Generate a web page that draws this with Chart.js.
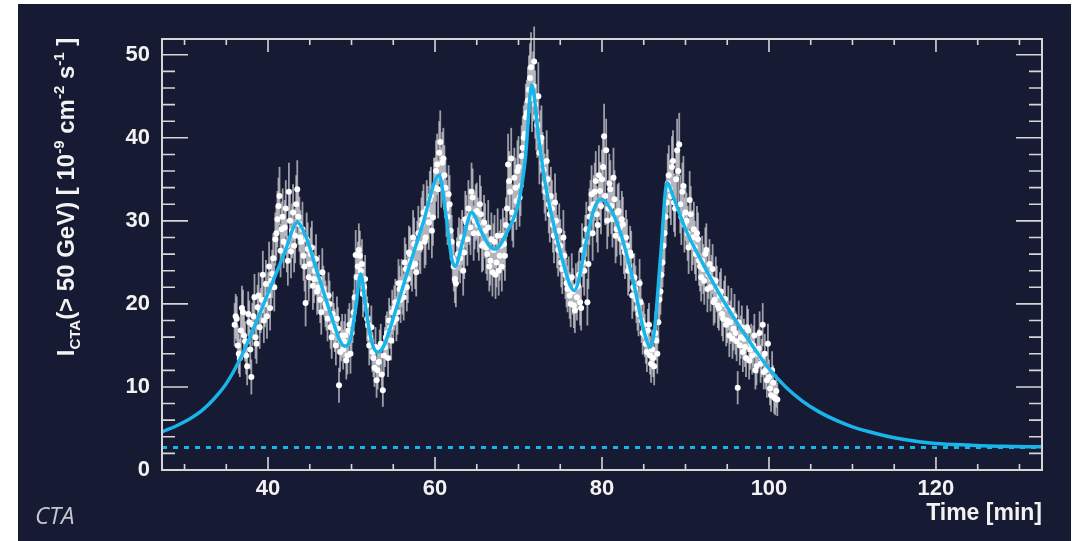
<!DOCTYPE html>
<html>
<head>
  <title>CTA flare light curve</title>
  <meta charset="utf-8" />
  <style>
    body {
      margin: 0;
      background: #ffffff;
    }
    #panel {
      position: absolute;
      left: 18px;
      top: 4px;
      width: 1053px;
      height: 537px;
      background: #161b33;
    }
  </style>
</head>
<body>
  <div id="panel"><canvas id="chart"></canvas></div>

  <script src="https://cdn.jsdelivr.net/npm/chart.js"></script>
  <script>
    // measured flux, one bin every 0.25 min starting at 36 min
    const tStart = 36;
    const tStep = 0.25;
    const flux = [
      17.5, 18.2, 14.0, 16.8,  19.0, 15.5, 12.5, 17.8,  11.2, 18.5, 16.0, 19.6,  17.2, 20.5, 18.0, 22.4,
      21.0, 19.5, 23.6, 22.0,  28.5, 31.8, 26.4, 30.5,  29.2, 27.0, 33.5, 26.3,  31.0, 28.2, 33.8, 29.6,
      27.5, 25.8, 20.1, 26.6,  24.8, 26.8, 23.0, 25.4,  22.0, 20.5, 23.8, 21.2,  19.5, 21.0, 17.2, 18.8,
      16.8, 18.2, 10.2, 15.5,  14.5, 16.2, 13.8, 17.5,  16.5, 19.0, 25.9, 24.5,  25.8, 24.8, 22.0, 19.8,
      17.5, 16.0, 14.2, 12.3,  10.8, 13.0, 15.2, 9.6,   14.8, 16.5, 18.0, 15.6,  17.8, 20.2, 19.0, 21.8,
      22.5, 20.8, 24.2, 23.0,  26.0, 24.5, 27.2, 23.8,  28.5, 26.8, 30.2, 27.5,  31.5, 29.8, 33.0, 30.4,
      34.0, 36.8, 38.2, 35.2,  37.5, 34.0, 30.5, 32.0,  27.5, 24.5, 22.5, 26.0,  25.5, 28.0, 26.2, 29.8,
      31.5, 29.2, 32.8, 30.0,  31.2, 28.5, 30.8, 27.2,  28.8, 26.0, 24.5, 27.8,  26.5, 23.5, 28.2, 25.8,
      24.5, 27.2, 29.5, 36.8,  33.5, 31.0, 35.2, 32.4,  36.5, 34.2, 38.8, 40.5,  43.0, 45.8, 48.5, 46.2,
      44.0, 41.5, 38.2, 40.0,  36.2, 33.5, 35.0, 30.8,  31.5, 28.2, 30.0, 26.5,  27.0, 24.2, 25.8, 22.5,
      22.8, 20.0, 21.5, 19.2,  20.8, 23.5, 19.5, 25.0,  27.5, 20.2, 30.5, 33.2,  32.0, 34.8, 29.5, 33.6,
      35.0, 40.2, 38.5, 31.5,  33.8, 30.2, 32.6, 29.0,  31.2, 27.8, 29.6, 26.2,  27.0, 24.5, 25.8, 22.0,
      21.8, 19.5, 22.5, 18.0,  17.5, 15.2, 16.8, 13.8,  14.5, 12.5, 15.6, 17.8,  21.5, 25.0, 28.5, 32.2,
      35.5, 33.0, 37.2, 31.5,  38.5, 39.2, 30.5, 34.2,  31.0, 28.5, 32.5, 27.2,  29.0, 26.0, 27.8, 24.5,
      25.2, 22.8, 26.5, 23.5,  22.0, 24.2, 20.5, 21.8,  19.5, 21.5, 18.2, 20.6,  18.0, 16.2, 19.2, 17.0,
      16.5, 9.9, 15.0, 17.2,   15.8, 13.5, 16.8, 14.5,  13.8, 16.2, 12.5, 14.6,  12.8, 17.5, 14.0, 10.8,
      11.2, 9.0, 10.5, 8.6,    8.5
    ];
    const fluxErr = [
      2.6, 2.7, 2.4, 2.6,  2.7, 2.4, 2.3, 2.6,  2.1, 2.7, 2.6, 2.7,  2.6, 2.8, 2.7, 2.9,
      2.8, 2.7, 2.9, 2.9,  3.3, 3.4, 3.2, 3.4,  3.3, 3.2, 3.5, 3.2,  3.4, 3.3, 3.5, 3.3,
      3.2, 3.0, 2.8, 3.2,  3.0, 3.2, 2.9, 3.0,  2.9, 2.8, 2.9, 2.8,  2.7, 2.8, 2.6, 2.7,
      2.6, 2.7, 2.1, 2.4,  2.4, 2.6, 2.3, 2.6,  2.6, 2.7, 3.0, 3.0,  3.0, 3.0, 2.9, 2.7,
      2.6, 2.6, 2.4, 2.3,  2.1, 2.3, 2.4, 2.0,  2.4, 2.6, 2.7, 2.4,  2.6, 2.8, 2.7, 2.8,
      2.9, 2.8, 3.0, 2.9,  3.2, 3.0, 3.2, 2.9,  3.3, 3.2, 3.4, 3.2,  3.4, 3.3, 3.5, 3.4,
      3.6, 3.7, 3.8, 3.6,  3.7, 3.6, 3.4, 3.5,  3.2, 3.0, 2.9, 3.2,  3.0, 3.3, 3.2, 3.3,
      3.4, 3.3, 3.5, 3.4,  3.4, 3.3, 3.4, 3.2,  3.3, 3.2, 3.0, 3.2,  3.2, 2.9, 3.3, 3.0,
      3.0, 3.2, 3.3, 3.7,  3.5, 3.4, 3.6, 3.5,  3.7, 3.6, 3.8, 3.9,  4.0, 4.1, 4.2, 4.2,
      4.1, 3.9, 3.8, 3.9,  3.7, 3.5, 3.6, 3.4,  3.4, 3.3, 3.4, 3.2,  3.2, 3.0, 3.0, 2.9,
      2.9, 2.8, 2.8, 2.7,  2.8, 2.9, 2.7, 3.0,  3.2, 2.8, 3.4, 3.5,  3.5, 3.6, 3.3, 3.5,
      3.6, 3.9, 3.8, 3.4,  3.5, 3.4, 3.5, 3.3,  3.4, 3.2, 3.3, 3.2,  3.2, 3.0, 3.0, 2.9,
      2.8, 2.7, 2.9, 2.7,  2.6, 2.4, 2.6, 2.3,  2.4, 2.3, 2.4, 2.6,  2.8, 3.0, 3.3, 3.5,
      3.6, 3.5, 3.7, 3.4,  3.8, 3.8, 3.4, 3.6,  3.4, 3.3, 3.5, 3.2,  3.3, 3.2, 3.2, 3.0,
      3.0, 2.9, 3.2, 2.9,  2.9, 3.0, 2.8, 2.8,  2.7, 2.8, 2.7, 2.8,  2.7, 2.6, 2.7, 2.6,
      2.6, 2.0, 2.4, 2.6,  2.4, 2.3, 2.6, 2.4,  2.3, 2.6, 2.3, 2.4,  2.3, 2.6, 2.4, 2.1,
      2.1, 2.0, 2.1, 2.0,  2.0
    ];

    // second, interleaved set of bins starting at 36.125 min
    const tStart2 = 36.125;
    const flux2 = [
      18.5, 15.0, 13.5, 19.5,  16.2, 13.8, 18.8, 14.5,  17.5, 20.8, 15.2, 21.0,  19.2, 23.5, 20.0, 18.5,
      24.5, 22.8, 25.5, 27.8,  30.2, 33.0, 29.0, 27.5,  31.5, 25.2, 30.0, 28.8,  27.0, 32.0, 30.5, 28.0,
      29.0, 24.5, 27.8, 23.2,  26.0, 22.2, 24.0, 21.5,  23.0, 19.0, 21.8, 20.0,  18.2, 20.0, 16.0, 17.5,
      15.0, 17.0, 14.2, 16.2,  15.5, 13.2, 16.8, 14.0,  18.0, 20.8, 23.2, 26.5,  24.0, 21.2, 23.0, 18.2,
      15.0, 17.2, 13.5, 14.8,  12.0, 14.5, 11.5, 13.8,  16.0, 13.5, 17.2, 19.0,  19.5, 18.2, 22.5, 20.5,
      21.5, 25.0, 22.0, 26.2,  25.2, 28.0, 24.8, 26.8,  27.2, 29.5, 31.0, 28.0,  30.8, 32.5, 28.8, 34.0,
      36.0, 33.8, 39.5, 37.0,  35.5, 31.5, 33.2, 28.8,  25.5, 23.0, 25.0, 27.2,  27.0, 24.0, 30.2, 27.8,
      30.5, 33.5, 28.5, 31.0,  29.5, 32.0, 27.0, 29.8,  26.8, 29.2, 25.2, 23.8,  27.5, 25.0, 24.0, 27.0,
      28.2, 25.8, 31.5, 34.8,  37.5, 30.2, 34.0, 36.0,  32.8, 37.8, 40.0, 42.5,  44.5, 47.2, 44.8, 49.2,
      42.5, 45.0, 39.5, 37.0,  34.5, 37.2, 32.0, 33.0,  29.5, 32.2, 27.5, 28.8,  25.0, 28.0, 23.5, 21.8,
      21.0, 23.2, 19.8, 22.0,  22.2, 20.2, 26.5, 24.0,  29.0, 24.8, 31.5, 28.5,  33.5, 30.8, 35.5, 31.8,
      36.5, 33.0, 30.0, 34.5,  31.8, 35.2, 28.2, 31.0,  29.2, 30.2, 26.8, 28.0,  24.0, 26.2, 21.0, 23.2,
      20.5, 18.8, 20.2, 16.5,  16.2, 14.2, 17.5, 12.8,  13.5, 16.5, 14.0, 20.5,  23.5, 27.0, 30.5, 34.5,
      33.8, 36.5, 32.2, 35.0,  36.0, 32.0, 33.5, 29.5,  30.0, 26.8, 30.8, 28.0,  26.8, 28.5, 25.2, 23.2,
      24.2, 26.0, 21.8, 24.8,  23.0, 20.2, 22.8, 19.8,  21.0, 18.8, 20.0, 17.5,  19.5, 17.8, 15.8, 18.5,
      15.5, 17.8, 16.0, 14.2,  14.8, 17.2, 13.2, 15.2,  15.0, 12.0, 14.0, 16.5,  13.5, 11.8, 12.0, 15.2,
      9.8, 12.0, 8.8, 9.5
    ];
    const fluxErr2 = [
      2.7, 2.4, 2.3, 2.7,  2.6, 2.3, 2.7, 2.4,  2.6, 2.8, 2.4, 2.8,  2.7, 2.9, 2.8, 2.7,
      3.0, 2.9, 3.0, 3.2,  3.4, 3.5, 3.3, 3.2,  3.4, 3.0, 3.4, 3.3,  3.2, 3.5, 3.4, 3.3,
      3.3, 3.0, 3.2, 2.9,  3.2, 2.9, 3.0, 2.8,  2.9, 2.7, 2.8, 2.8,  2.7, 2.8, 2.6, 2.6,
      2.4, 2.6, 2.4, 2.6,  2.4, 2.3, 2.6, 2.4,  2.7, 2.8, 2.9, 3.2,  3.0, 2.8, 2.9, 2.7,
      2.4, 2.6, 2.3, 2.4,  2.3, 2.4, 2.1, 2.3,  2.6, 2.3, 2.6, 2.7,  2.7, 2.7, 2.9, 2.8,
      2.8, 3.0, 2.9, 3.2,  3.0, 3.3, 3.0, 3.2,  3.2, 3.3, 3.4, 3.3,  3.4, 3.5, 3.3, 3.6,
      3.7, 3.5, 3.8, 3.7,  3.6, 3.4, 3.5, 3.3,  3.0, 2.9, 3.0, 3.2,  3.2, 3.0, 3.4, 3.2,
      3.4, 3.5, 3.3, 3.4,  3.3, 3.5, 3.2, 3.3,  3.2, 3.3, 3.0, 2.9,  3.2, 3.0, 3.0, 3.2,
      3.3, 3.0, 3.4, 3.6,  3.7, 3.4, 3.6, 3.7,  3.5, 3.7, 3.9, 4.0,  4.1, 4.2, 4.1, 4.2,
      4.0, 4.1, 3.8, 3.7,  3.6, 3.7, 3.5, 3.5,  3.3, 3.5, 3.2, 3.3,  3.0, 3.3, 2.9, 2.8,
      2.8, 2.9, 2.7, 2.9,  2.9, 2.8, 3.2, 3.0,  3.3, 3.0, 3.4, 3.3,  3.5, 3.4, 3.6, 3.4,
      3.7, 3.5, 3.4, 3.6,  3.4, 3.6, 3.3, 3.4,  3.3, 3.4, 3.2, 3.3,  3.0, 3.2, 2.8, 2.9,
      2.8, 2.7, 2.8, 2.6,  2.6, 2.4, 2.6, 2.3,  2.3, 2.6, 2.4, 2.8,  2.9, 3.2, 3.4, 3.6,
      3.5, 3.7, 3.5, 3.6,  3.7, 3.5, 3.5, 3.3,  3.4, 3.2, 3.4, 3.3,  3.2, 3.3, 3.0, 2.9,
      3.0, 3.2, 2.8, 3.0,  2.9, 2.8, 2.9, 2.7,  2.8, 2.7, 2.8, 2.6,  2.7, 2.6, 2.4, 2.7,
      2.4, 2.6, 2.6, 2.4,  2.4, 2.6, 2.3, 2.4,  2.4, 2.3, 2.4, 2.6,  2.3, 2.1, 2.3, 2.4,
      2.0, 2.3, 2.0, 2.0
    ];

    // fitted light curve
    const fitT = [27.3, 29, 30, 31, 32, 33, 34, 35, 36, 37, 38, 39, 40, 42, 43.5, 44.5, 46, 47.5, 48.6, 49.2, 49.8,
      50.5, 51.1, 51.7, 52.4, 53.1, 53.8, 55, 56.6, 58.5, 60.5, 61.2, 62.0, 62.4, 63.3, 64.4, 65.5,
      66.5, 67.2, 68.6, 70.0, 70.8, 71.6, 72.4, 73.2, 74.0, 75.2, 76.2, 76.7, 77.2, 78.0, 79.0, 79.8,
      80.8, 82.2, 83.8, 85.0, 85.8, 86.3, 87.0, 87.8, 88.5, 90, 92, 94, 96, 98, 100, 102, 104, 106,
      108, 110, 112, 114, 116, 118, 120, 124, 128, 132.7];
    const fitY = [4.6, 5.3, 5.8, 6.4, 7.1, 8.0, 9.1, 10.4, 12.1, 14.1, 16.4, 18.8, 21.3, 26.2, 29.8, 28.2, 23.5, 18.8, 15.6, 14.9, 15.5,
      19.5, 23.6, 19.5, 15.5, 14.2, 14.8, 18.3, 23.5, 29.5, 35.5, 31.5, 25.5, 24.5, 27.5, 31.0, 28.8,
      27.0, 26.6, 28.6, 32.2, 37.3, 46.4, 40.1, 34.5, 30.5, 25.5, 22.2, 21.6, 22.8, 27.0, 31.3, 32.6,
      31.8, 28.6, 22.5, 16.8, 14.8, 17.0, 25.5, 34.6, 33.0, 29.0, 25.0, 21.3, 18.0, 15.0, 12.2, 10.0, 8.3, 7.0,
      6.0, 5.2, 4.6, 4.1, 3.7, 3.4, 3.2, 3.0, 2.85, 2.8];

    // steady baseline level (dotted)
    const baseLevel = 2.7;

    const xMin = 27.3, xMax = 132.7;
    const yMin = 0, yMax = 51.9;
    const xLabels = [40, 60, 80, 100, 120];
    const yLabels = [0, 10, 20, 30, 40, 50];

    const fg = '#f2f2f2';
    const cyan = '#19b5ea';
    const fontFamily = '"Liberation Sans", Arial, sans-serif';

    const points = flux.map((v, i) => ({ x: tStart + i * tStep, y: v, err: fluxErr[i] }))
      .concat(flux2.map((v, i) => ({ x: tStart2 + i * tStep, y: v, err: fluxErr2[i] })));
    const fitPoints = fitT.map((t, i) => ({ x: t, y: fitY[i] }));

    function drawYTitle(ctx, cx, cy) {
      const parts = [
        ['I', 0, 24], ['CTA', 6, 15], ['(> 50 GeV) [ 10', 0, 24], ['-9', -10, 15],
        [' cm', 0, 24], ['-2', -10, 15], [' s', 0, 24], ['-1', -10, 15], [' ]', 0, 24]
      ];
      ctx.save();
      ctx.translate(cx, cy);
      ctx.rotate(-Math.PI / 2);
      ctx.fillStyle = fg;
      ctx.textBaseline = 'alphabetic';
      let total = 0;
      parts.forEach(p => {
        ctx.font = 'bold ' + p[2] + 'px ' + fontFamily;
        total += ctx.measureText(p[0]).width;
      });
      let x = -total / 2;
      parts.forEach(p => {
        ctx.font = 'bold ' + p[2] + 'px ' + fontFamily;
        ctx.fillText(p[0], x, p[1]);
        x += ctx.measureText(p[0]).width;
      });
      ctx.restore();
    }

    const framePlugin = {
      id: 'frame',
      beforeDatasetsDraw(chart) {
        // error bars under the markers
        const ctx = chart.ctx;
        const xs = chart.scales.x, ys = chart.scales.y;
        ctx.save();
        ctx.strokeStyle = 'rgba(212,212,216,0.7)';
        ctx.lineWidth = 1.8;
        points.forEach(p => {
          const x = xs.getPixelForValue(p.x);
          ctx.beginPath();
          ctx.moveTo(x, ys.getPixelForValue(p.y - p.err));
          ctx.lineTo(x, ys.getPixelForValue(p.y + p.err));
          ctx.stroke();
        });
        ctx.restore();
      },
      afterDraw(chart) {
        const ctx = chart.ctx;
        const { left, right, top, bottom } = chart.chartArea;
        const xs = chart.scales.x, ys = chart.scales.y;
        ctx.save();
        ctx.strokeStyle = '#d6d6d6';
        ctx.lineWidth = 2;
        ctx.strokeRect(left, top, right - left, bottom - top);
        ctx.lineWidth = 1.6;
        ctx.beginPath();
        for (let v = 0; v <= 50; v += 2) {
          const y = ys.getPixelForValue(v);
          const len = v % 10 === 0 ? 26 : 13;
          ctx.moveTo(left, y); ctx.lineTo(left + len, y);
          ctx.moveTo(right, y); ctx.lineTo(right - len, y);
        }
        for (let v = 30; v <= 130; v += 5) {
          const x = xs.getPixelForValue(v);
          const len = v % 20 === 0 ? 13 : 6;
          ctx.moveTo(x, bottom); ctx.lineTo(x, bottom - len);
          ctx.moveTo(x, top); ctx.lineTo(x, top + len);
        }
        ctx.stroke();
        ctx.restore();

        drawYTitle(ctx, 56, 193);

        ctx.save();
        ctx.fillStyle = '#c4c7cf';
        ctx.font = 'italic 24px "Liberation Sans Narrow", "Open Sans", sans-serif';
        ctx.textBaseline = 'alphabetic';
        ctx.fillText('CTA', 17, 520);
        ctx.restore();
      }
    };

    new Chart(document.getElementById('chart'), {
      type: 'line',
      data: {
        datasets: [
          {
            data: fitPoints,
            borderColor: cyan,
            borderWidth: 3.5,
            pointRadius: 0,
            cubicInterpolationMode: 'monotone',
            fill: false
          },
          {
            data: [{ x: xMin, y: baseLevel }, { x: xMax, y: baseLevel }],
            borderColor: cyan,
            borderWidth: 3,
            borderDash: [5, 6],
            pointRadius: 0,
            fill: false
          },
          {
            data: points,
            showLine: false,
            pointRadius: 3,
            pointBorderWidth: 0,
            pointBackgroundColor: '#ffffff',
            pointBorderColor: '#ffffff'
          }
        ]
      },
      options: {
        responsive: true,
        maintainAspectRatio: false,
        animation: false,
        layout: { padding: { left: 0, right: 29, top: 35, bottom: 0 } },
        plugins: {
          legend: { display: false },
          tooltip: { enabled: false }
        },
        scales: {
          x: {
            type: 'linear',
            min: xMin,
            max: xMax,
            grid: { display: false, drawTicks: false },
            border: { display: false },
            afterBuildTicks: s => { s.ticks = xLabels.map(v => ({ value: v })); },
            afterFit: s => { s.height = 71; },
            ticks: {
              color: fg,
              font: { family: fontFamily, size: 22, weight: 'bold' },
              padding: 6,
              maxRotation: 0,
              autoSkip: false
            },
            title: {
              display: true,
              text: 'Time [min]',
              align: 'end',
              color: fg,
              font: { family: fontFamily, size: 23, weight: 'bold' },
              padding: { top: 0, bottom: 14 }
            }
          },
          y: {
            min: yMin,
            max: yMax,
            grid: { display: false, drawTicks: false },
            border: { display: false },
            afterBuildTicks: s => { s.ticks = yLabels.map(v => ({ value: v })); },
            afterFit: s => { s.width = 144; },
            ticks: {
              color: fg,
              font: { family: fontFamily, size: 22, weight: 'bold' },
              padding: 12,
              autoSkip: false
            }
          }
        }
      },
      plugins: [framePlugin]
    });
  </script>
</body>
</html>
